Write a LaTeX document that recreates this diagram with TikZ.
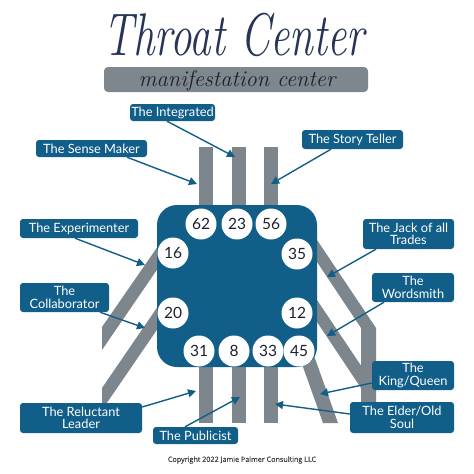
\documentclass[tikz,border=0pt]{standalone}
\usepackage{fontspec}
\usetikzlibrary{arrows.meta}
\newfontfamily\labfont{Lato}
\newfontfamily\copyfont[FakeBold=0.4]{Open Sans}
\definecolor{blueM}{RGB}{17,94,137}
\definecolor{barG}{RGB}{125,134,141}
\definecolor{titleG}{RGB}{126,135,142}
\definecolor{navyT}{RGB}{38,52,88}
\definecolor{txtD}{RGB}{30,32,45}
\begin{document}
\begin{tikzpicture}[x=1pt,y=-1pt,
  lbl/.style={fill=blueM,rounded corners=3pt,text=white,font=\labfont\fontsize{12.8}{12.5}\selectfont,align=center,inner sep=0pt},
  num/.style={circle,fill=white,minimum size=31pt,inner sep=0pt,font=\labfont\fontsize{15.5}{15.5}\selectfont,text=txtD},
  bar/.style={fill=barG},
  arr/.style={draw=blueM,line width=1.4pt,-{Triangle[length=8pt,width=8pt]}}]
\useasboundingbox (0,0) rectangle (474,474);
\fill[white] (0,0) rectangle (474,474);
% title
\node[anchor=base,text=navyT,font=\itshape\fontsize{43}{43}\selectfont,inner sep=0pt] (title) at (234,55) {\scalebox{1}[1.4]{Throat Center}};
\fill[titleG,rounded corners=4pt] (104,67) rectangle (368,92);
\node[anchor=base,text=txtD,font=\itshape\fontsize{22.5}{22.5}\selectfont,inner sep=0pt] (sub) at (237,86) {manifestation center};
% bars
\fill[bar] (199,147) rectangle (213,212);
\fill[bar] (232,147) rectangle (246,212);
\fill[bar] (264,147) rectangle (278,212);
\fill[bar] (199,360) rectangle (213,423);
\fill[bar] (232,360) rectangle (246,423);
\fill[bar] (264,360) rectangle (278,423);
\fill[bar] (165,236) -- (165,258) -- (102,350) -- (102,327) -- cycle;
\fill[bar] (165,296) -- (165,318) -- (102,410) -- (102,388) -- cycle;
\fill[bar] (311,231) -- (376,328) -- (376,402) -- (361,402) -- (361,328) -- (311,253) -- cycle;
\fill[bar] (311,291) -- (376,388) -- (361,388) -- (311,313) -- cycle;
\fill[bar] (297,350) -- (312,350) -- (338,423) -- (323,423) -- cycle;
% square
\fill[blueM,rounded corners=20pt] (157,205) rectangle (317,367);
% circles
\node[num] (c62) at (201,224) {62};
\node[num] (c23) at (237,224) {23};
\node[num] (c56) at (271,224) {56};
\node[num] (c16) at (173,253) {16};
\node[num] (c35) at (297,254) {35};
\node[num] (c20) at (173,313) {20};
\node[num] (c12) at (297,313) {12};
\node[num] (c31) at (199,351) {31};
\node[num] (c8) at (234,351) {8};
\node[num] (c33) at (268,351) {33};
\node[num] (c45) at (299,351) {45};
% label boxes
\node[lbl,minimum width=85pt,minimum height=17pt] (integ) at (172.5,112.5) {The Integrated};
\node[lbl,minimum width=111pt,minimum height=17pt] (sense) at (91.5,148.5) {The Sense Maker};
\node[lbl,minimum width=101pt,minimum height=19pt] (story) at (352.5,139.5) {The Story Teller};
\node[lbl,minimum width=118pt,minimum height=19pt] (exper) at (79,228.5) {The Experimenter};
\node[lbl,minimum width=89pt,minimum height=29pt] (collab) at (64.5,297.5) {The\\Collaborator};
\node[lbl,minimum width=91pt,minimum height=30pt] (jack) at (408.5,234) {The Jack of all\\Trades};
\node[lbl,minimum width=82pt,minimum height=29pt] (words) at (413,287.5) {The\\Wordsmith};
\node[lbl,minimum width=82pt,minimum height=29pt] (king) at (413,375.5) {The\\King/Queen};
\node[lbl,minimum width=104pt,minimum height=31pt] (elder) at (402,417.5) {The Elder/Old\\Soul};
\node[lbl,minimum width=122pt,minimum height=30pt] (reluct) at (81,418) {The Reluctant\\Leader};
\node[lbl,minimum width=85pt,minimum height=17pt] (publ) at (195.5,435.5) {The Publicist};
% arrow tips
\coordinate (t1) at (235,157);
\coordinate (t2) at (197,184);
\coordinate (t3) at (271,184);
\coordinate (t4) at (145,265);
\coordinate (t5) at (145,328);
\coordinate (t6) at (327,277);
\coordinate (t7) at (327,336);
\coordinate (t8) at (320,394);
\coordinate (t9) at (275,404);
\coordinate (t10) at (196,391);
\coordinate (t11) at (240,397);
\draw[arr] ([xshift=-5.5pt]integ.south) -- (t1);
\draw[arr] ([xshift=35.5pt]sense.south) -- (t2);
\draw[arr] ([xshift=-21.5pt]story.south) -- (t3);
\draw[arr] ([xshift=-4pt]exper.south) -- (t4);
\draw[arr] ([xshift=35.5pt]collab.south) -- (t5);
\draw[arr] ([xshift=-32.5pt]jack.south) -- (t6);
\draw[arr] ([xshift=-29pt]words.south) -- (t7);
\draw[arr] ([yshift=-7.5pt]king.west) -- (t8);
\draw[arr] ([yshift=3.5pt]elder.west) -- (t9);
\draw[arr] ([yshift=11pt]reluct.east) -- (t10);
\draw[arr] ([xshift=-10.5pt]publ.north) -- (t11);
% copyright
\node[text=black!75,font=\copyfont\fontsize{7.2}{7.5}\selectfont,inner sep=0pt] (copy) at (242,460) {Copyright 2022 Jamie Palmer Consulting LLC};
\end{tikzpicture}
\end{document}
